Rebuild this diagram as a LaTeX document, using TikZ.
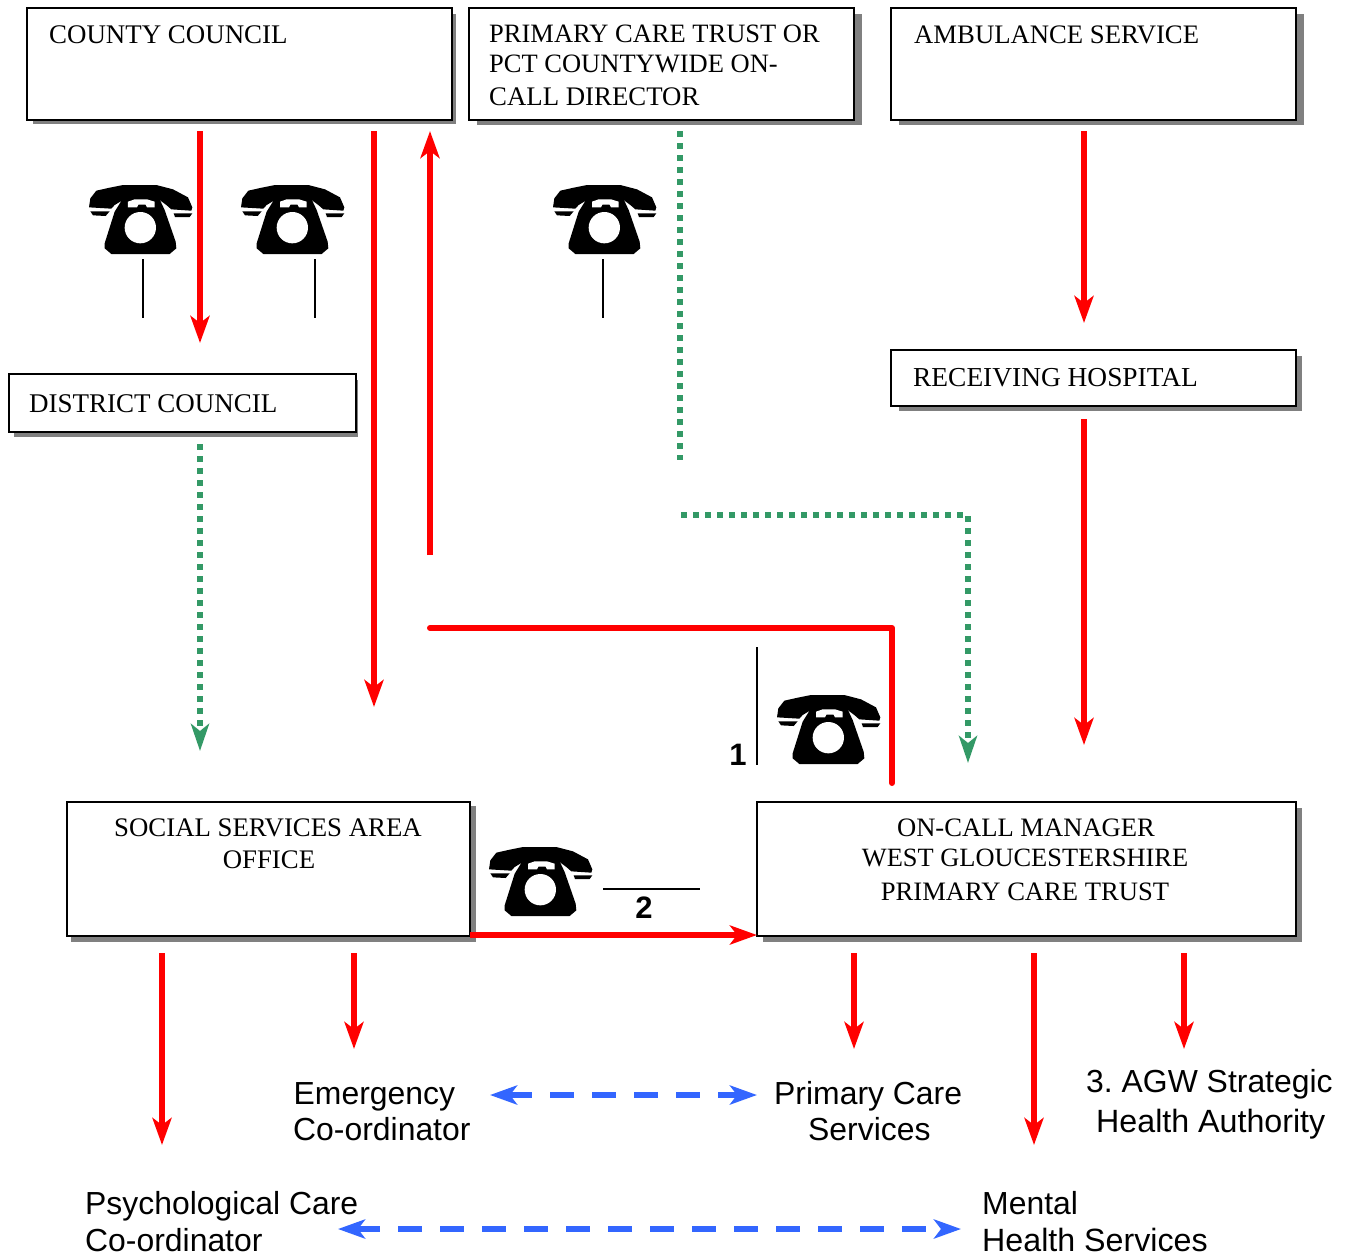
\documentclass[tikz,border=0pt]{standalone}
\usepackage{fontspec}
\setmainfont{Liberation Serif}
\setsansfont{Liberation Sans}
\frenchspacing
\usetikzlibrary{arrows.meta}
\definecolor{rd}{HTML}{FF0000}
\definecolor{gr}{HTML}{339966}
\definecolor{bl}{HTML}{3366FF}
\definecolor{shd}{HTML}{808080}
\newcommand{\sz}[1]{\fontsize{#1}{30}\selectfont}
\tikzset{
  x=1pt,y=-1pt,
  box/.style={draw=black,line width=2pt,fill=white,rectangle,inner sep=0pt,outer sep=0pt,anchor=north west},
  shdw/.style={fill=shd,draw=none},
  serif/.style={inner sep=0pt,font=\sz{26.7}},
  sans/.style={inner sep=0pt,font=\sffamily\fontsize{31.9}{36}\selectfont},
  num/.style={inner sep=0pt,font=\sffamily\bfseries\fontsize{31}{34}\selectfont},
  redtip/.tip={Stealth[length=27pt,width=19pt,inset=7pt]},
  redln/.style={draw=rd,line width=6pt,-{redtip}},
  redplain/.style={draw=rd,line width=6pt,line cap=round,line join=round},
  grn/.style={draw=gr,line width=6pt,dash pattern=on 6pt off 6pt,-{Stealth[length=27pt,width=18pt,inset=7pt,color=gr]}},
  grnp/.style={draw=gr,line width=6pt,dash pattern=on 6pt off 6pt},
  blu/.style={draw=bl,line width=6pt,dash pattern=on 24pt off 18pt,{Stealth[length=27pt,width=19pt,inset=7pt,color=bl]}-{Stealth[length=27pt,width=19pt,inset=7pt,color=bl]}},
  thin line/.style={draw=black,line width=1.7pt},
  telephone/.pic={
    \begin{scope}[x=0.3333pt,y=-0.3333pt,shift={(-88,-195)}]
      \fill[black] (88,262) -- (92,235) -- (110,212) -- (150,203) -- (190,195) -- (290,195) -- (340,208) -- (385,232) -- (398,262) -- (395,272) -- (335,268) -- (320,255) -- (300,240) -- (190,240) -- (165,255) -- (155,266) -- cycle;
      \fill[black] (92,274) -- (150,274) -- (138,288) -- (100,286) -- cycle;
      \fill[black] (342,280) -- (398,280) -- (390,291) -- (346,291) -- cycle;
      \fill[black] (188,238) -- (300,238) -- (315,270) -- (348,365) -- (350,385) -- (330,402) -- (155,402) -- (135,385) -- (135,370) -- (165,275) -- cycle;
      \fill[white] (205,262) -- (205,245) -- (225,238) -- (262,238) -- (285,245) -- (285,262) -- (262,262) -- (258,254) -- (236,254) -- (232,262) -- cycle;
      \fill[white] (242,323) circle[radius=47];
    \end{scope}
  }
}
\begin{document}
\begin{tikzpicture}
\useasboundingbox (0,0) rectangle (1351,1254);
\fill[white] (0,0) rectangle (1351,1254);
% shadows
\fill[shdw] (33,14) rectangle (456,124);
\fill[shdw] (477,14) rectangle (862,125);
\fill[shdw] (899,14) rectangle (1304,125);
\fill[shdw] (899,356) rectangle (1302,411);
\fill[shdw] (14,380) rectangle (358,437);
\fill[shdw] (71,806) rectangle (476,942);
\fill[shdw] (763,808) rectangle (1302,942);
% boxes
\node[box,minimum width=425pt,minimum height=112pt] (cc) at (27,8) {};
\node[box,minimum width=385pt,minimum height=112pt] (pct) at (469,8) {};
\node[box,minimum width=405pt,minimum height=112pt] (amb) at (891,8) {};
\node[box,minimum width=405pt,minimum height=56pt] (rh) at (891,350) {};
\node[box,minimum width=347pt,minimum height=58pt] (dc) at (9,374) {};
\node[box,minimum width=403pt,minimum height=134pt] (ss) at (67,802) {};
\node[box,minimum width=539pt,minimum height=134pt] (oc) at (757,802) {};
% box texts
\node[serif,font=\sz{26.9},anchor=base west] (tcc) at (49,43) {COUNTY COUNCIL};
\node[serif,font=\sz{26.5},anchor=base west] (tp1) at (489,42) {PRIMARY CARE TRUST OR};
\node[serif,font=\sz{26.5},anchor=base west] (tp2) at (489,72) {PCT COUNTYWIDE ON-};
\node[serif,font=\sz{26.8},anchor=base west] (tp3) at (489,105) {CALL DIRECTOR};
\node[serif,anchor=base west] (tamb) at (914,43) {AMBULANCE SERVICE};
\node[serif,font=\sz{27.4},anchor=base west] (trh) at (913,386) {RECEIVING HOSPITAL};
\node[serif,font=\sz{27},anchor=base west] (tdc) at (29,412) {DISTRICT COUNCIL};
\node[serif,font=\sz{26.8},anchor=base] (ts1) at (268,836) {SOCIAL SERVICES AREA};
\node[serif,font=\sz{26.8},anchor=base] (ts2) at (269,868) {OFFICE};
\node[serif,font=\sz{26.6},anchor=base] (to1) at (1026,836) {ON-CALL MANAGER};
\node[serif,font=\sz{26.4},anchor=base] (to2) at (1025,866) {WEST GLOUCESTERSHIRE};
\node[serif,font=\sz{26.6},anchor=base] (to3) at (1025,900) {PRIMARY CARE TRUST};
% free-end coordinates
\foreach \n/\x/\y in {a/200/131,b/200/343,c/374/131,d/374/707,e/430/555,f/430/131,g/430/628,h/892/628,i/892/783,
  j/1084/131,k/1084/323,l/1084/419,m/1084/745,n/680/131,o/680/460,p/681/515,q/968/515,r/968/763,s/200/444,t/200/751,
  u/470/935,v/757/935,w1/162/953,w2/162/1145,x1/354/953,x2/354/1049,y1/854/953,y2/854/1049,z1/1034/953,z2/1034/1145,
  z3/1184/953,z4/1184/1049,b1/490/1095,b2/757/1095,b3/338/1229,b4/961/1229,
  k1/143/259,k2/143/318,k3/315/259,k4/315/318,k5/603/259,k6/603/318,k7/757/647,k8/757/765,k9/603/889,k0/700/889}
  {\coordinate (\n) at (\x,\y);}
% red
\draw[redln] (a) -- (b);
\draw[redln] (c) -- (d);
\draw[redln] (e) -- (f);
\draw[redplain] (g) -- (h) -- (i);
\draw[redln] (j) -- (k);
\draw[redln] (l) -- (m);
\draw[redln] (u) -- (v);
\draw[redln] (w1) -- (w2);
\draw[redln] (x1) -- (x2);
\draw[redln] (y1) -- (y2);
\draw[redln] (z1) -- (z2);
\draw[redln] (z3) -- (z4);
% green
\draw[grnp] (n) -- (o);
\draw[grn] (p) -- (q) -- (r);
\draw[grn] (s) -- (t);
% blue
\draw[blu] (b1) -- (b2);
\draw[blu] (b3) -- (b4);
% thin
\draw[thin line] (k1) -- (k2);
\draw[thin line] (k3) -- (k4);
\draw[thin line] (k5) -- (k6);
\draw[thin line] (k7) -- (k8);
\draw[thin line] (k9) -- (k0);
% phones
\pic (ph1) at (89,185) {telephone};
\pic (ph2) at (241,185) {telephone};
\pic (ph3) at (553,185) {telephone};
\pic (ph4) at (777,695) {telephone};
\pic (ph5) at (489,847) {telephone};
% numbers
\node[num,anchor=base] (n1) at (738,765) {1};
\node[num,anchor=base] (n2) at (644,918) {2};
% bottom labels
\node[sans,anchor=base west] (e1) at (293.5,1104) {Emergency};
\node[sans,anchor=base west] (e2) at (293,1140) {Co-ordinator};
\node[sans,anchor=base west] (pc1) at (774,1104) {Primary Care};
\node[sans,anchor=base west] (pc2) at (808,1140) {Services};
\node[sans,anchor=base west] (ag1) at (1086,1092) {3. AGW Strategic};
\node[sans,font=\sffamily\fontsize{32.2}{36}\selectfont,anchor=base west] (ag2) at (1096,1132) {Health Authority};
\node[sans,anchor=base west] (ps1) at (85,1214) {Psychological Care};
\node[sans,anchor=base west] (ps2) at (85,1251.5) {Co-ordinator};
\node[sans,anchor=base west] (mh1) at (982,1214) {Mental};
\node[sans,font=\sffamily\fontsize{32.2}{36}\selectfont,anchor=base west] (mh2) at (982,1251.5) {Health Services};
\end{tikzpicture}
\end{document}
